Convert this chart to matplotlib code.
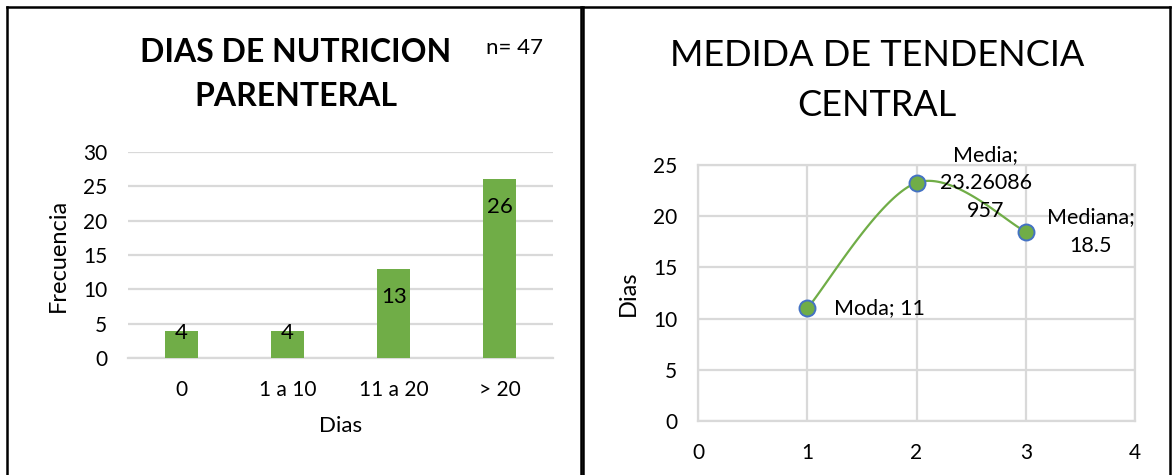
import numpy as np
import matplotlib
matplotlib.use("Agg")
import matplotlib.pyplot as plt
from matplotlib.lines import Line2D

plt.rcParams['font.family'] = ['Lato', 'DejaVu Sans']

# ---- data ----
categorias = ["0", "1 a 10", "11 a 20", "> 20"]
frecuencia = [4, 4, 13, 26]
n_total = 47

medidas = ["Moda", "Media", "Mediana"]
medida_x = [1, 2, 3]
medida_val = [11, 23.26086957, 18.5]
medida_lbl = ["Moda; 11", "Media;\n23.26086\n957", "Mediana;\n18.5"]

GREEN = "#70AD47"
BLUE = "#4472C4"
GRID = "#D9D9D9"

W, H = 1173, 475
fig = plt.figure(figsize=(W / 100, H / 100), dpi=100)

def fx(px):
    return px / W

def fy(py):
    return 1 - py / H

# panel frames
for seg in [((7, 7), (581, 7)), ((7, 7), (7, 475)), ((581, 7), (581, 475)),
            ((583, 7), (1170, 7)), ((583, 7), (583, 475)), ((1170, 7), (1170, 475))]:
    (x0, y0), (x1, y1) = seg
    fig.add_artist(Line2D([fx(x0), fx(x1)], [fy(y0), fy(y1)], color="black", lw=1.8))

# ---- left: bar chart ----
ax1 = fig.add_axes([fx(128), fy(358), fx(553) - fx(128), fy(152) - fy(358)])
xpos = np.arange(len(categorias))
ax1.bar(xpos, frecuencia, width=0.31, color=GREEN, zorder=3)
ax1.set_xlim(-0.5, len(categorias) - 0.5)
ax1.set_ylim(0, 30)
ax1.set_yticks(range(0, 31, 5))
ax1.set_xticks(xpos)
ax1.set_xticklabels(categorias)
ax1.yaxis.grid(True, color=GRID, lw=1.6, zorder=0)
ax1.set_axisbelow(True)
for s in ["top", "right", "left"]:
    ax1.spines[s].set_visible(False)
ax1.spines["bottom"].set_color(GRID)
ax1.spines["bottom"].set_linewidth(1.6)
ax1.tick_params(axis="both", length=0, labelsize=15, colors="black")
ax1.tick_params(axis="y", pad=15)
ax1.tick_params(axis="x", pad=16)
ax1.set_xlabel("Dias", fontsize=16, labelpad=11)
ax1.set_ylabel("Frecuencia", fontsize=17, labelpad=10)
for i, v in enumerate(frecuencia):
    off = -20 if v > 8 else -2
    ax1.annotate(str(v), (i, v), xytext=(0, off), textcoords="offset points",
                 ha="center", va="center", fontsize=16)

fig.text(fx(296), fy(52), "DIAS DE NUTRICION", ha="center", va="center",
         fontsize=23, fontweight="bold")
fig.text(fx(296), fy(97), "PARENTERAL", ha="center", va="center",
         fontsize=23, fontweight="bold")
fig.text(fx(515), fy(48), f"n= {n_total}", ha="center", va="center", fontsize=16)

# ---- right: smoothed line ----
ax2 = fig.add_axes([fx(698), fy(421), fx(1135) - fx(698), fy(165) - fy(421)])

def catmull(xs, ys, n=60):
    P = np.column_stack([xs, ys]).astype(float)
    P = np.vstack([P[0], P, P[-1]])
    out = []
    for k in range(1, len(P) - 2):
        p0, p1, p2, p3 = P[k - 1], P[k], P[k + 1], P[k + 2]
        t = np.linspace(0, 1, n)[:, None]
        seg = 0.5 * ((2 * p1) + (-p0 + p2) * t + (2 * p0 - 5 * p1 + 4 * p2 - p3) * t ** 2
                     + (-p0 + 3 * p1 - 3 * p2 + p3) * t ** 3)
        out.append(seg)
    return np.vstack(out)

curve = catmull(medida_x, medida_val)
ax2.plot(curve[:, 0], curve[:, 1], color=GREEN, lw=1.6, zorder=3)
ax2.plot(medida_x, medida_val, ls="none", marker="o", ms=11.5, mfc=GREEN,
         mec=BLUE, mew=1.4, zorder=4)
ax2.set_xlim(0, 4)
ax2.set_ylim(0, 25)
ax2.set_xticks(range(0, 5))
ax2.set_yticks(range(0, 26, 5))
ax2.grid(True, color=GRID, lw=1.6, zorder=0)
ax2.set_axisbelow(True)
for s in ax2.spines.values():
    s.set_color(GRID)
    s.set_linewidth(1.6)
ax2.tick_params(axis="both", length=0, labelsize=15, colors="black")
ax2.tick_params(axis="y", pad=15)
ax2.tick_params(axis="x", pad=16)
ax2.set_ylabel("Dias", fontsize=17, labelpad=10)

offsets = [(19, 0, "left"), (50, 0, "center"), (47, 0, "center")]
for (x, v, lbl, (dx, dy, ha)) in zip(medida_x, medida_val, medida_lbl, offsets):
    ax2.annotate(lbl, (x, v), xytext=(dx, dy), textcoords="offset points",
                 ha=ha, va="center", fontsize=15.5, linespacing=1.5, zorder=5)

fig.text(fx(877), fy(55), "MEDIDA DE TENDENCIA", ha="center", va="center", fontsize=26)
fig.text(fx(877), fy(105), "CENTRAL", ha="center", va="center", fontsize=26)

fig.savefig("out.png", dpi=100, facecolor="white")
